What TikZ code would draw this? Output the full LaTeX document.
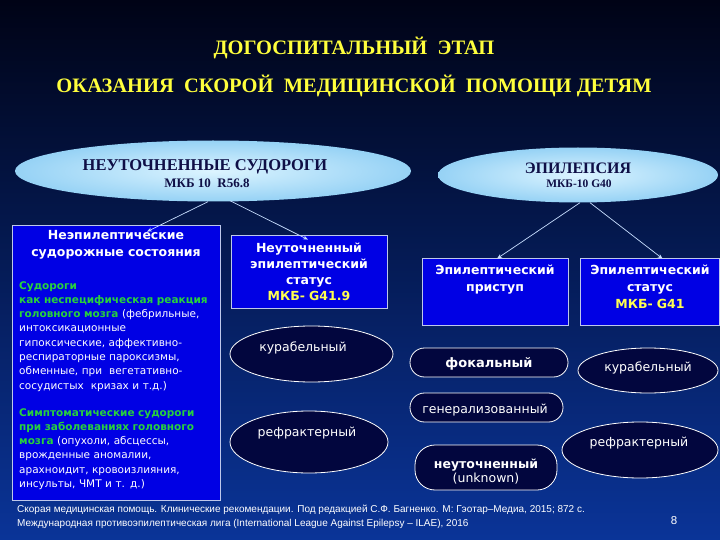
\documentclass[tikz,border=0pt]{standalone}
\usepackage{fontspec}
\setmainfont{DejaVu Sans}
\newfontfamily\serifcyr{Liberation Serif}
\newfontfamily\footfont{Liberation Sans}
\usetikzlibrary{shapes.geometric,arrows.meta}
\definecolor{bgtop}{RGB}{0,3,22}
\definecolor{bgmid}{RGB}{7,38,122}
\definecolor{bgbot}{RGB}{10,52,152}
\definecolor{titleyellow}{RGB}{255,255,60}
\definecolor{boxblue}{RGB}{0,0,228}
\definecolor{boxedge}{RGB}{190,200,235}
\definecolor{darknavy}{RGB}{2,6,62}
\definecolor{lightin}{RGB}{220,244,255}
\definecolor{lightout}{RGB}{150,210,245}
\definecolor{inktext}{RGB}{15,15,70}
\definecolor{greentext}{RGB}{40,210,60}
\definecolor{codeyellow}{RGB}{255,255,80}
\definecolor{arrowcol}{RGB}{200,222,255}
\tikzset{
  bluebox/.style={draw=boxedge, fill=boxblue, line width=0.8pt, rectangle, inner sep=0pt},
  lightell/.style={ellipse, inner sep=0pt, inner color=lightin, outer color=lightout},
  darkell/.style={ellipse, inner sep=0pt, fill=darknavy, draw=white, line width=0.8pt},
  darkpill/.style={rectangle, inner sep=0pt, fill=darknavy, draw=white, line width=0.8pt},
  titletext/.style={font={\serifcyr\bfseries\fontsize{20.5}{22}\selectfont}, text=titleyellow, inner sep=0pt, anchor=base},
  elltext/.style={font={\serifcyr\bfseries\fontsize{#1}{#1}\selectfont}, text=inktext, inner sep=0pt, anchor=base},
  boxtext/.style={font={\bfseries\fontsize{12.5}{#1}\selectfont}, text=white, inner sep=0pt, anchor=base, align=center, text width=200pt},
  para/.style={font={\fontsize{10.5}{14.3}\selectfont}, text=white, inner sep=0pt, anchor=base west, align=left, text width=240pt},
  ovaltext/.style={font={\fontsize{12.5}{14}\selectfont}, text=white, inner sep=0pt, anchor=base},
  arr/.style={draw=arrowcol, line width=0.7pt, -{Stealth[length=5pt,width=4pt]}},
  foot/.style={font={\footfont\fontsize{10}{14}\selectfont}, text=white, inner sep=0pt, anchor=base west}
}
\begin{document}
\begin{tikzpicture}[x=1pt,y=-1pt]
\shade[top color=bgtop, middle color=bgmid, bottom color=bgbot] (0,0) rectangle (720,540);
\useasboundingbox (0,0) rectangle (720,540);

% titles
\node[titletext] (t1) at (354,55) {ДОГОСПИТАЛЬНЫЙ\ \ ЭТАП};
\node[titletext] (t2) at (354,93) {ОКАЗАНИЯ\ \ СКОРОЙ\ \ МЕДИЦИНСКОЙ\ \ ПОМОЩИ ДЕТЯМ};

% light ellipses
\node[lightell, minimum width=396pt, minimum height=61pt] (e1) at (213,171) {};
\node[elltext=16.5] (e1a) at (205,170.5) {НЕУТОЧНЕННЫЕ СУДОРОГИ};
\node[elltext=13] (e1b) at (207,187.5) {МКБ 10\ \ R56.8};
\node[lightell, minimum width=280pt, minimum height=55pt] (e2) at (578,175) {};
\node[elltext=16] (e2a) at (578,173.5) {ЭПИЛЕПСИЯ};
\node[elltext=11.5] (e2b) at (579,187.5) {МКБ-10 G40};

% blue boxes
\node[bluebox, minimum width=208pt, minimum height=275pt] (b1) at (116,362.5) {};
\node[boxtext=17] (b1t) at (116,240) {Неэпилептические\\судорожные состояния};
\node[para] (b1p1) at (19,289) {\textcolor{greentext}{\bfseries Судороги}\\
\textcolor{greentext}{\bfseries как неспецифическая реакция}\\
\textcolor{greentext}{\bfseries головного мозга} (фебрильные,\\
интоксикационные\\
гипоксические, аффективно-\\
респираторные пароксизмы,\\
обменные, при\ \ вегетативно-\\
сосудистых\ \ кризах и т.д.)};
\node[para] (b1p2) at (19,416) {\textcolor{greentext}{\bfseries Симптоматические судороги}\\
\textcolor{greentext}{\bfseries при заболеваниях головного}\\
\textcolor{greentext}{\bfseries мозга} (опухоли, абсцессы,\\
врожденные аномалии,\\
арахноидит, кровоизлияния,\\
инсульты, ЧМТ и т. д.)};

\node[bluebox, minimum width=156pt, minimum height=73pt] (b2) at (309,271.5) {};
\node[boxtext=16] (b2t) at (309,252) {Неуточненный\\эпилептический\\статус\\\textcolor{codeyellow}{МКБ- G41.9}};

\node[bluebox, minimum width=146pt, minimum height=67pt] (b3) at (495,291.5) {};
\node[boxtext=17] (b3t) at (495,274) {Эпилептический\\приступ};

\node[bluebox, minimum width=139pt, minimum height=67pt] (b4) at (649.5,291.5) {};
\node[boxtext=17] (b4t) at (650,274) {Эпилептический\\статус\\\textcolor{codeyellow}{МКБ- G41}};

% arrows
\draw[arr] ([xshift=-5pt]e1.south) -- ([xshift=31pt,yshift=-7pt]b1.north);
\draw[arr] ([xshift=17pt,yshift=1pt]e1.south) -- ([xshift=-1pt,yshift=-5pt]b2.north);
\draw[arr] ([xshift=2pt]e2.south) -- ([xshift=2pt,yshift=-1pt]b3.north);
\draw[arr] ([xshift=12pt]e2.south) -- ([xshift=13pt,yshift=-1pt]b4.north);

% dark ovals left
\node[darkell, minimum width=163pt, minimum height=56pt] (k1) at (311.5,354) {};
\node[ovaltext] (k1t) at (303,351) {курабельный};
\node[darkell, minimum width=158pt, minimum height=62pt] (r1) at (309,442) {};
\node[ovaltext] (r1t) at (307,436) {рефрактерный};

% dark shapes right
\node[darkpill, rounded corners=14.5pt, minimum width=158pt, minimum height=29pt] (f1) at (489,362.5) {};
\node[ovaltext, font={\bfseries\fontsize{13}{14}\selectfont}] (f1t) at (489,367) {фокальный};
\node[darkpill, rounded corners=14.5pt, minimum width=153pt, minimum height=29pt] (g1) at (486.5,407.5) {};
\node[ovaltext] (g1t) at (485,413.5) {генерализованный};
\node[darkpill, rounded corners=20pt, minimum width=142pt, minimum height=45pt] (u1) at (486,467.5) {};
\node[ovaltext, font={\bfseries\fontsize{12.5}{14}\selectfont}] (u1t) at (486,468) {неуточненный};
\node[ovaltext] (u1u) at (486,482.5) {(unknown)};
\node[darkell, minimum width=140pt, minimum height=45pt] (k2) at (648,370.5) {};
\node[ovaltext] (k2t) at (648,371) {курабельный};
\node[darkell, minimum width=156pt, minimum height=56pt] (r2) at (640,450) {};
\node[ovaltext] (r2t) at (639,446) {рефрактерный};

% footer
\node[foot] (ft1) at (17,512) {Скорая медицинская помощь. Клинические рекомендации. Под редакцией С.Ф. Багненко. М: Гэотар–Медиа, 2015; 872 с.};
\node[foot] (ft2) at (17,526) {Международная противоэпилептическая лига (International League Against Epilepsy – ILAE), 2016};
\node[foot, anchor=base, font={\footfont\fontsize{11.5}{14}\selectfont}] (pg) at (674,524) {8};
\end{tikzpicture}
\end{document}
